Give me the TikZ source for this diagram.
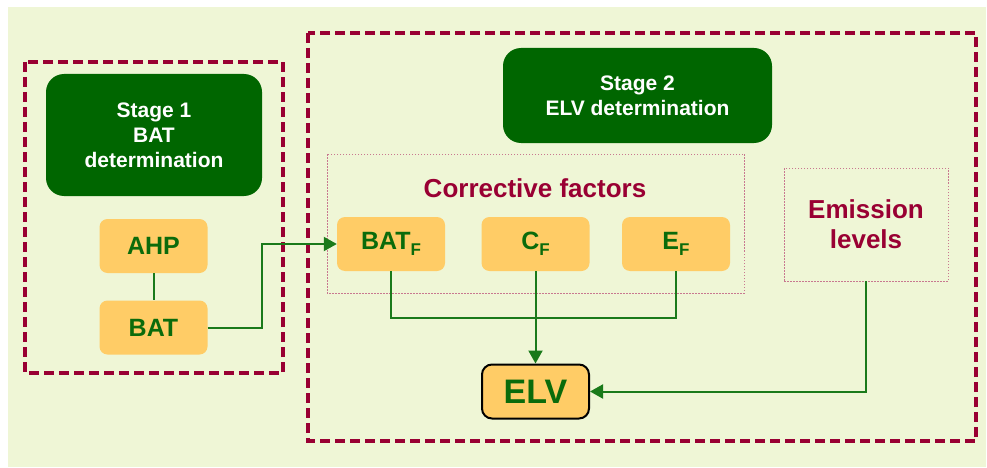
\documentclass[tikz,border=0pt]{standalone}
\usepackage{fontspec}
\setmainfont{Liberation Sans}
\usetikzlibrary{arrows.meta}
\definecolor{bgc}{HTML}{EFF6D6}
\definecolor{dkgreen}{HTML}{006600}
\definecolor{txgreen}{HTML}{0B6B0B}
\definecolor{lngreen}{HTML}{1A7A1A}
\definecolor{orng}{HTML}{FFCC66}
\definecolor{crim}{HTML}{990033}
\definecolor{dotc}{HTML}{C87890}
\tikzset{
  stagebox/.style={fill=dkgreen, rounded corners=18pt, text=white, align=center,
    font=\fontsize{21}{25}\selectfont\bfseries, inner sep=0pt},
  obox/.style={fill=orng, rounded corners=8pt, text=txgreen, align=center,
    font=\fontsize{25}{28}\selectfont\bfseries, minimum width=108pt, minimum height=54pt, inner sep=0pt},
  bigdash/.style={draw=crim, line width=3.2pt, dash pattern=on 10pt off 5pt},
  dotbox/.style={draw=dotc, line width=0.8pt, dash pattern=on 1.5pt off 1.5pt},
  conn/.style={draw=lngreen, line width=2pt},
  arr/.style={conn, -{Triangle[length=13pt,width=14pt]}},
  crimtext/.style={text=crim, align=center, font=\fontsize{26}{30}\selectfont\bfseries}
}
\newcommand{\subF}{\raisebox{-6pt}{\fontsize{17}{17}\selectfont F}}
\begin{document}
\begin{tikzpicture}[x=1pt,y=-1pt]
\useasboundingbox (0,0) rectangle (987,468);
\fill[white] (0,0) rectangle (987,468);
\fill[bgc] (8,7) rectangle (986,467);

% dashed stage frames
\draw[bigdash] (25,62) rectangle (283,373);
\draw[bigdash] (308,33) rectangle (976,441);

% dotted groups
\draw[dotbox] (327,154) rectangle (744,293);
\node[crimtext] (cftext) at (535,188) {Corrective factors};
\node[dotbox, crimtext, minimum width=164pt, minimum height=113pt, inner sep=0pt] (emis) at (866,224.5) {Emission\\levels};

% stage boxes
\node[stagebox, minimum width=216pt, minimum height=122pt] (st1) at (154,135) {Stage 1\\BAT\\determination};
\node[stagebox, minimum width=269pt, minimum height=95pt] (st2) at (637.5,95.5) {Stage 2\\ELV determination};

% orange boxes
\node[obox] (ahp) at (153.5,246) {AHP};
\node[obox] (bat) at (153.5,327.5) {BAT};
\node[obox] (batf) at (391,244) {BAT\subF};
\node[obox] (cf) at (535.5,244) {C\subF};
\node[obox] (ef) at (676,244) {E\subF};
\node[obox, draw=black, line width=2pt, rounded corners=10pt, minimum width=107pt, minimum height=54pt,
  font=\fontsize{34}{36}\selectfont\bfseries] (elv) at (535.5,391.5) {ELV};

% connectors
\draw[conn] (ahp.south) -- (bat.north);
\draw[arr] (bat.east) -- ++(54,0) |- (batf.west);
\draw[conn] (batf.south) -- ++(0,47) -| (ef.south);
\draw[arr] (cf.south) -- (elv.north);
\draw[arr] (emis.south) |- (elv.east);
\end{tikzpicture}
\end{document}
